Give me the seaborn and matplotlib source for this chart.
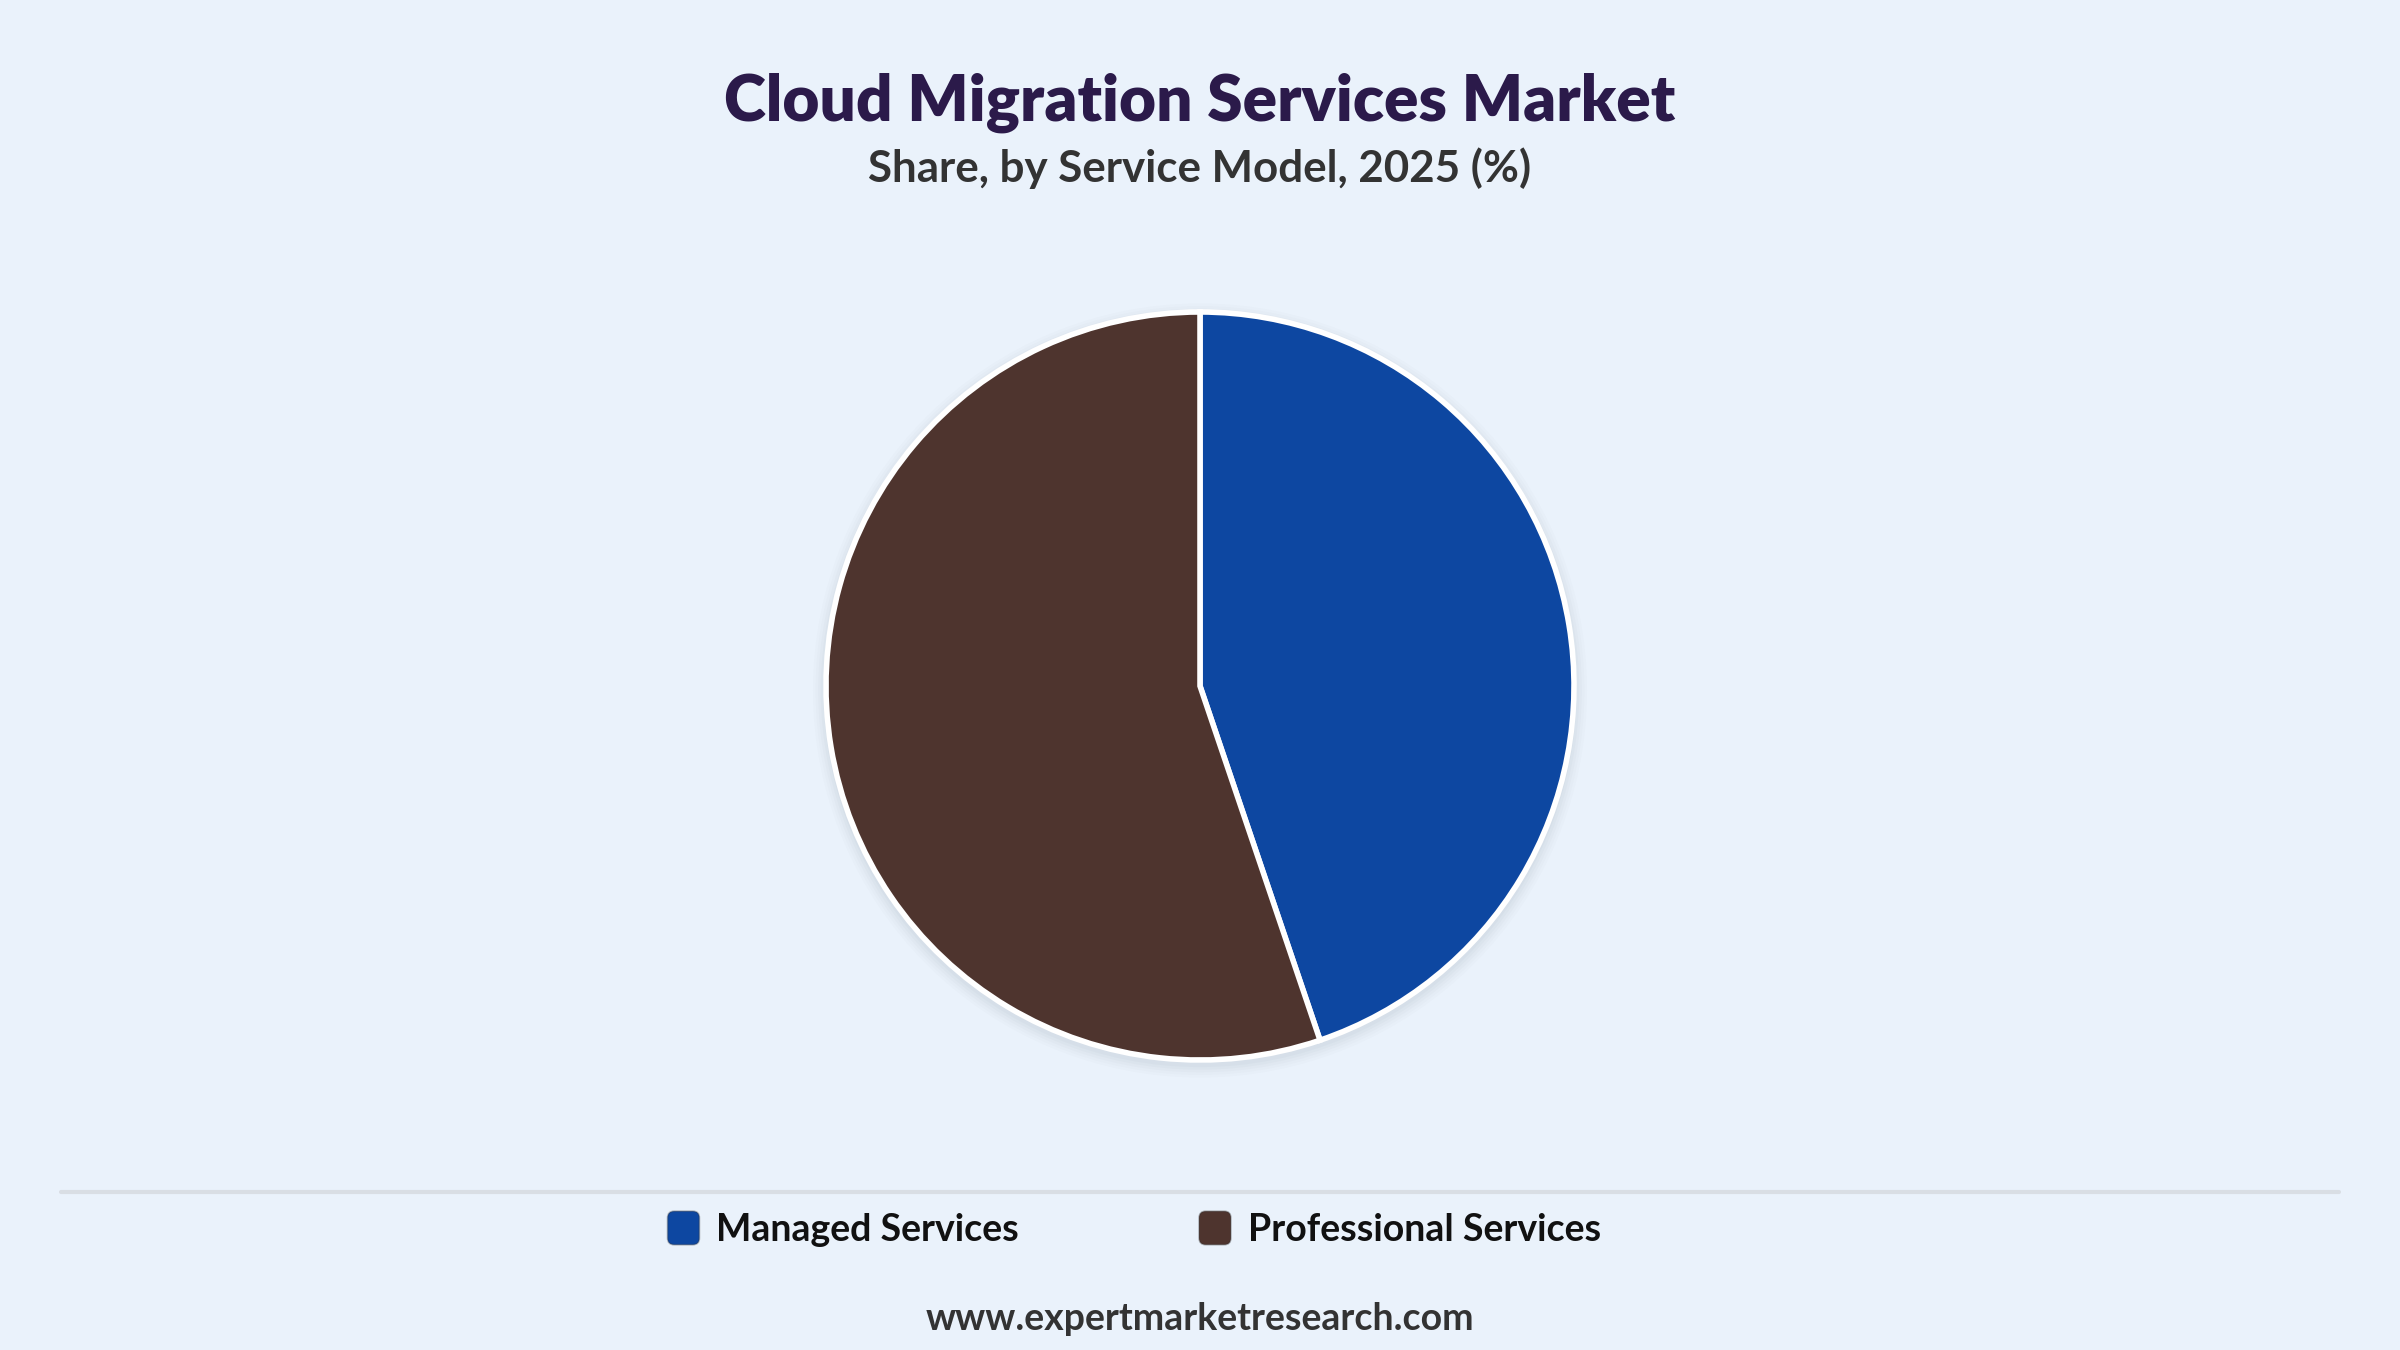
import matplotlib
matplotlib.use("Agg")
import matplotlib.pyplot as plt
import seaborn as sns
from matplotlib.patches import Patch, Circle, FancyBboxPatch
from matplotlib.legend_handler import HandlerPatch
from matplotlib.lines import Line2D

# ---- data ----
categories = ["Managed Services", "Professional Services"]
shares = [44.8, 55.2]
colors = ["#0D47A1", "#4E342E"]

title = "Cloud Migration Services Market"
subtitle = "Share, by Service Model, 2025 (%)"
footer = "www.expertmarketresearch.com"

BG = "#EAF2FB"
W, H, DPI = 2400, 1350, 200

sns.set_theme(style="white")
plt.rcParams["font.family"] = ["Lato", "DejaVu Sans"]

fig = plt.figure(figsize=(W / DPI, H / DPI), dpi=DPI, facecolor=BG)

# pie axes: centre (1200, 686) px, radius 374 px
R = 374
cx, cy = 1200, 686
half = R * 1.1
ax = fig.add_axes([(cx - half) / W, (H - cy - half) / H, 2 * half / W, 2 * half / H])
ax.set_facecolor(BG)

# soft shadow
for i, a in enumerate([0.025, 0.025, 0.03, 0.035, 0.04]):
    ax.add_patch(Circle((0, -0.012), 1.0 + 0.035 - i * 0.007, color="#6b7a90",
                        alpha=a, lw=0, zorder=0))

ax.pie(shares, colors=colors, startangle=90, counterclock=False, radius=1.0,
       wedgeprops=dict(edgecolor="white", linewidth=2.0, joinstyle="miter"))
ax.set_xlim(-1.1, 1.1)
ax.set_ylim(-1.1, 1.1)
ax.set_aspect("equal")
ax.axis("off")

# titles
fig.text(0.5, 1 - 103 / H, title, ha="center", va="center", fontsize=23,
         fontweight="heavy", color="#2B1A4A")
fig.text(0.5, 1 - 168 / H, subtitle, ha="center", va="center", fontsize=15.8,
         fontweight="bold", color="#333333")

# separator line
fig.add_artist(Line2D([61 / W, 2339 / W], [1 - 1192 / H, 1 - 1192 / H],
                      color="#D9DEE4", lw=1.5, transform=fig.transFigure))


class RoundHandler(HandlerPatch):
    def create_artists(self, legend, orig_handle, xdescent, ydescent, width,
                       height, fontsize, trans):
        p = FancyBboxPatch((-xdescent, -ydescent), width, height,
                           boxstyle="round,pad=0,rounding_size=%f" % (height * 0.2),
                           facecolor=orig_handle.get_facecolor(),
                           edgecolor=orig_handle.get_edgecolor(), lw=0.6,
                           transform=trans)
        return [p]


handles = [Patch(facecolor=c, edgecolor="#33333355", label=l) for c, l in zip(colors, categories)]
leg = fig.legend(handles=handles, loc="center", bbox_to_anchor=(0.4726, 1 - 1229 / H),
                 ncol=2, frameon=False, fontsize=13.5, handlelength=0.85,
                 handleheight=1.0, handletextpad=0.45, columnspacing=4.8,
                 handler_map={Patch: RoundHandler()})
for t in leg.get_texts():
    t.set_fontweight("bold")
    t.set_color("#111111")

fig.text(0.5, 1 - 1319 / H, footer, ha="center", va="center", fontsize=13.5,
         fontweight="bold", color="#333333")

fig.savefig("out.png", dpi=DPI, facecolor=BG)
